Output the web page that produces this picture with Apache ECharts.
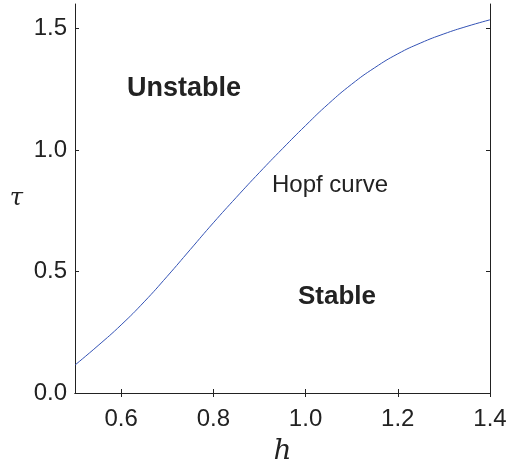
<!DOCTYPE html>
<html>
<head>
<meta charset="utf-8">
<script src="https://cdn.jsdelivr.net/npm/echarts@6/dist/echarts.min.js"></script>
<style>
html,body{margin:0;padding:0;background:#fff;}
#main{width:513px;height:461px;}
</style>
</head>
<body>
<div id="main"></div>
<script>
// h values and tau on the Hopf curve
var hVals = [0.50, 0.55, 0.60, 0.65, 0.70, 0.75, 0.80, 0.85, 0.90, 0.95, 1.00, 1.05, 1.10, 1.15, 1.20, 1.25, 1.30, 1.35, 1.40];
var tauVals = [0.115, 0.195, 0.28, 0.375, 0.48, 0.59, 0.70, 0.805, 0.907, 1.005, 1.10, 1.19, 1.27, 1.338, 1.395, 1.44, 1.477, 1.508, 1.535];
var xTicks = [0.6, 0.8, 1.0, 1.2, 1.4];
var yTicks = [0.0, 0.5, 1.0, 1.5];

var hopf = [];
for (var i = 0; i < hVals.length; i++) {
    hopf.push([hVals[i], tauVals[i]]);
}

var myChart = echarts.init(document.getElementById('main'));
var lblFont = {fontFamily: 'Liberation Sans, Arial, sans-serif', fontSize: 24, color: '#222'};
var lineStyle = {color: '#222', width: 1};
var textFont = 'Liberation Sans, Arial, sans-serif';

var option = {
    animation: false,
    grid: {left: 75, right: 23, top: 4, bottom: 68, outerBoundsMode: 'none', containLabel: false},
    xAxis: [{
        type: 'value', min: 0.5, max: 1.4, interval: 0.1,
        axisLine: {show: true, lineStyle: lineStyle},
        axisTick: {inside: true, length: 4, lineStyle: lineStyle,
            customValues: xTicks},
        axisLabel: Object.assign({margin: 14, customValues: xTicks,
            formatter: function (v) { return v.toFixed(1); }}, lblFont),
        splitLine: {show: false},
        name: 'h', nameLocation: 'middle', nameGap: 45,
        nameTextStyle: {fontFamily: 'DejaVu Serif, serif', fontStyle: 'italic', fontSize: 28, color: '#222'}
    }, {
        type: 'value', min: 0.5, max: 1.4, position: 'top',
        axisLine: {show: true, lineStyle: lineStyle},
        axisTick: {inside: true, length: 4, lineStyle: lineStyle, customValues: xTicks},
        axisLabel: {show: false},
        splitLine: {show: false}
    }],
    yAxis: [{
        type: 'value', min: 0, max: 1.6, interval: 0.5,
        axisLine: {show: true, lineStyle: lineStyle},
        axisTick: {inside: true, length: 4, lineStyle: lineStyle, customValues: yTicks},
        axisLabel: Object.assign({margin: 8, customValues: yTicks,
            formatter: function (v) { return v.toFixed(1); }}, lblFont),
        splitLine: {show: false},
        name: 'τ', nameLocation: 'middle', nameGap: 52, nameRotate: 0,
        nameTextStyle: {fontFamily: 'DejaVu Serif, serif', fontStyle: 'italic', fontSize: 24, color: '#222'}
    }, {
        type: 'value', min: 0, max: 1.6, position: 'right',
        axisLine: {show: true, lineStyle: lineStyle},
        axisTick: {inside: true, length: 4, lineStyle: lineStyle, customValues: yTicks},
        axisLabel: {show: false},
        splitLine: {show: false}
    }],
    series: [{
        type: 'line',
        data: hopf,
        smooth: true,
        showSymbol: false,
        lineStyle: {color: '#3352b5', width: 1}
    }],
    graphic: [
        {type: 'text', left: 127, top: 75, style: {text: 'Unstable', font: 'bold 27px ' + textFont, fill: '#222'}},
        {type: 'text', left: 298, top: 284, style: {text: 'Stable', font: 'bold 26px ' + textFont, fill: '#222'}},
        {type: 'text', left: 272, top: 173, style: {text: 'Hopf curve', font: '24px ' + textFont, fill: '#222'}}
    ]
};
myChart.setOption(option);
</script>
</body>
</html>
